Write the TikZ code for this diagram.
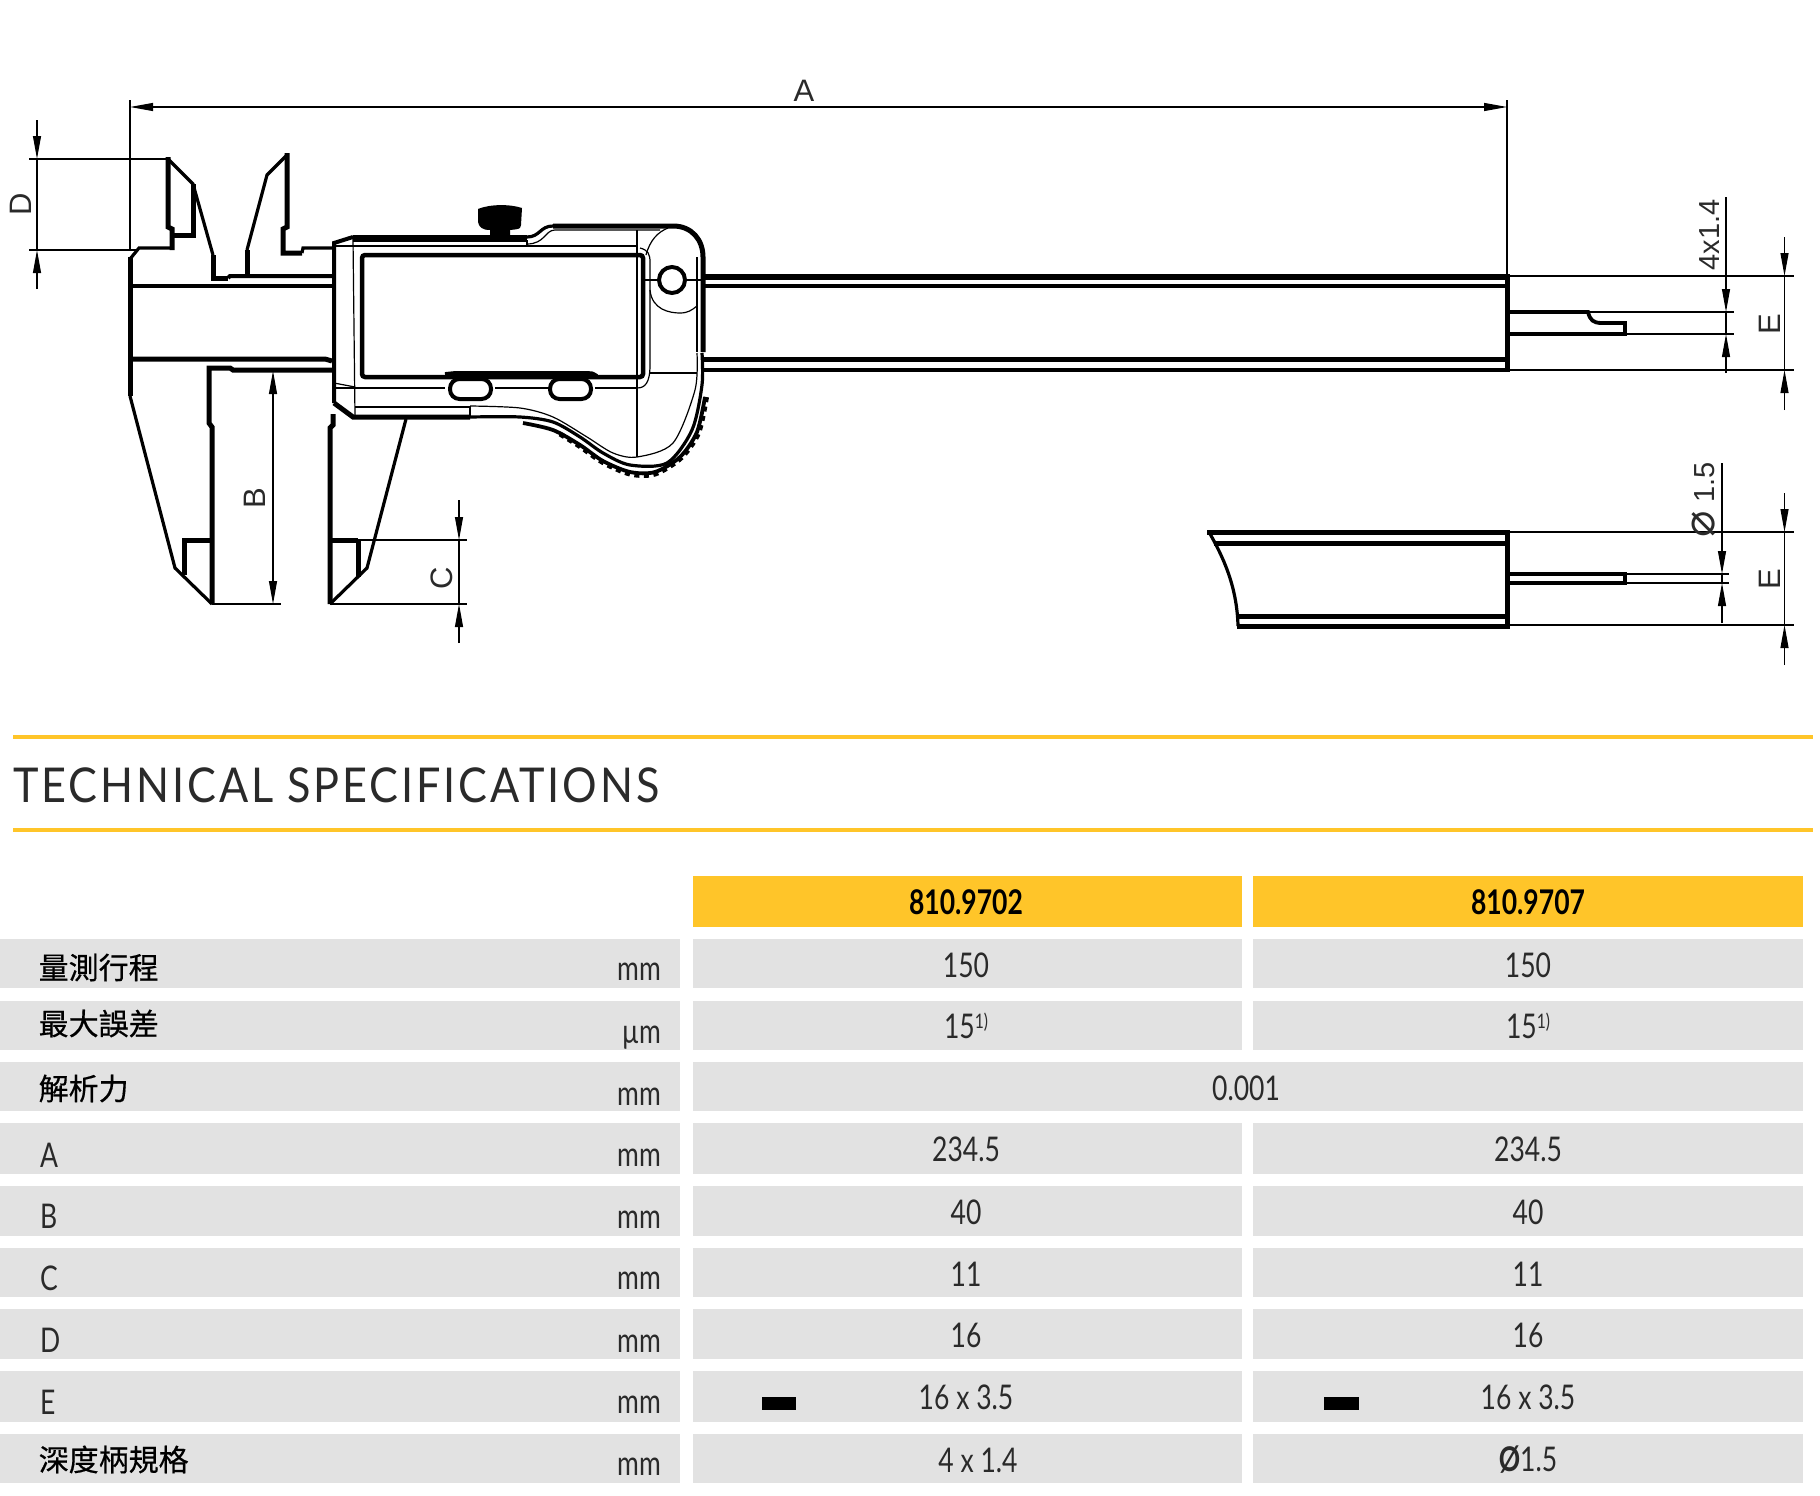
\documentclass[tikz,border=0pt]{standalone}
\usepackage{fontspec}
\usetikzlibrary{arrows.meta}
\setmainfont{Liberation Sans}
\newfontfamily\cond[FakeStretch=0.78]{Lato}
\newfontfamily\titlef[FakeStretch=0.90,LetterSpace=6]{Lato}
\newfontfamily\cjk[FakeBold=0.5]{Noto Sans CJK TC}
\newfontfamily\dejav{DejaVu Sans}
\definecolor{yel}{HTML}{FFC529}
\definecolor{rowg}{HTML}{E2E2E2}
\definecolor{txt}{HTML}{2A2A2A}
\tikzset{
  hv/.style={line width=5pt,line join=miter,line cap=butt},
  md/.style={line width=3.2pt,line join=miter},
  tn/.style={line width=1.2pt,line join=miter},
  hair/.style={line width=1.1pt,black},
  dimt/.style={line width=1.1pt,-{Triangle[length=23pt,width=8pt]}},
  dimtt/.style={line width=1.1pt,{Triangle[length=23pt,width=8pt]}-{Triangle[length=23pt,width=8pt]}},
  dl/.style={font=\fontsize{31}{31}\selectfont,text=txt,inner sep=0pt,rotate=90},
  val/.style={font=\cond\fontsize{34}{34}\selectfont,text=txt,inner sep=0pt},
  lab/.style={font=\cond\fontsize{34}{34}\selectfont,text=txt,inner sep=0pt,anchor=west},
  cj/.style={font=\cjk\fontsize{30}{30}\selectfont,text=black,inner sep=0pt,anchor=west},
  un/.style={font=\cond\fontsize{34}{34}\selectfont,text=txt,inner sep=0pt,anchor=base east},
  hdr/.style={font=\cond\bfseries\fontsize{34}{34}\selectfont,text=black,inner sep=0pt},
}
\begin{document}
\begin{tikzpicture}[x=1pt,y=-1pt]
\useasboundingbox (0,0) rectangle (1820,1496);
% ---- fixed jaws
\draw[md] (130,259) -- (139,248) -- (172,248);
\draw[hv] (130,257) -- (130,396);
\draw[md] (130,396) -- (175,568) -- (212,604);
\draw[hv] (172,250) -- (172,229) -- (168,227) -- (168,157);
\draw[md] (168,159) -- (193,184) -- (213,255);
\draw[hv] (193,184) -- (193,235) -- (172,235);
\draw[hv] (213,255) -- (213,278) -- (228,278);
\draw[line width=4pt] (228,278) -- (230,276) -- (332,276);
\draw[line width=4pt] (130,286) -- (332,286);
\draw[hv] (130,359) -- (325,359) -- (332,361);
\draw[hv] (212,604) -- (212,427) -- (209,423) -- (209,368) -- (230,368) -- (233,370) -- (332,370);
\draw[hv] (212,540) -- (184,540) -- (184,575);
% ---- sliding jaws
\draw[md] (287,155) -- (267,175) -- (247,250);
\draw[hv] (247,250) -- (247,275);
\draw[hv] (287,153) -- (287,227) -- (283,229) -- (283,253) -- (302,253);
\draw[md] (302,253) -- (303,248) -- (332,248);
\draw[hv] (330,604) -- (330,428) -- (333,425) -- (333,414);
\draw[md] (330,604) -- (367,568) -- (406,419);
\draw[hv] (330,540) -- (358,540);
\draw[hv] (358,540) -- (358,577);
% ---- body
\draw[hv,line width=4pt] (334,403) -- (334,243) -- (353,237);
\draw[hv] (353,237) -- (527,237);
\draw[md] (527,237) .. controls (540,237) and (540,226) .. (553,226);
\draw[hv] (553,226) -- (673,226) .. controls (692,226) and (703,240) .. (703,257) -- (703,352);
\draw[hv] (334,403) -- (353,417) -- (470,417);
\draw[tn] (353,238) -- (355,417);
\draw[tn] (334,246) -- (637,246);
\draw[tn] (353,241) -- (527,241) -- (527,246);
\draw[tn] (527,244) .. controls (545,244) and (545,230) .. (555,230) -- (660,230);
\draw[tn] (334,388) -- (445,388);
\draw[tn] (495,388) -- (548,388);
\draw[tn] (595,388) -- (637,388);
\draw[tn] (334,383) -- (355,387);
\draw[tn] (355,407) -- (470,407) -- (470,417);
\draw[tn] (637,230) -- (637,457);
\draw[tn] (640,248) .. controls (648,250) and (650,254) .. (650,262) -- (650,365) .. controls (650,383) and (645,388) .. (637,388);
\draw[tn] (650,373) -- (697,373);
\draw[tn] (646,255) .. controls (650,240) and (658,232) .. (668,228);
\draw[tn] (650,290) .. controls (652,310) and (670,313) .. (680,313) .. controls (688,313) and (692,310) .. (697,306);
\draw[tn] (697,257) -- (697,352);
\draw[tn] (645,280) -- (657,280);
\draw[tn] (687,280) -- (703,280);
\draw[line width=4pt] (672,280) circle (13pt);
% wheel
\draw[tn] plot[smooth] coordinates {(470,406) (520,408) (553,417) (587,437) (613,453) (637,457) (673,443) (695,390) (697,353)};
\draw[md] plot[smooth] coordinates {(470,417) (520,417) (553,422) (580,437) (603,453) (630,465) (667,463) (692,430) (702,385) (702,353)};
\draw[line width=3.8pt] plot[smooth] coordinates {(523,423) (553,430) (580,445) (603,461) (630,472) (655,472) (680,457) (697,432) (705,397)};
\draw[line width=5pt,dash pattern=on 5pt off 4.5pt] plot[smooth] coordinates {(560,434) (580,446.5) (603,462.5) (630,474) (655,474) (681,458) (698.5,433) (706.5,397)};
% screen
\draw[line width=4.5pt,rounded corners=3pt] (362,255) rectangle (643,377);
\draw[line width=3.8pt] (445,374) .. controls (450,373) .. (455,373) -- (588,373) .. controls (592,373) .. (597,376);
% buttons
\draw[line width=4pt,fill=white,rounded corners=9.5pt] (450,379) rectangle (491,399);
\draw[line width=4pt,fill=white,rounded corners=9.5pt] (550,379) rectangle (591,399);
% clamp knob
\fill[black] (478,209) .. controls (490,204) and (510,204) .. (522,208) -- (521,225) .. controls (520,229) .. (510,230) -- (510,238) -- (490,238) -- (490,230) .. controls (482,230) and (479,227) .. (478,222) -- cycle;
% ---- beam
\draw[line width=6pt] (703,277) -- (1509.5,277);
\draw[line width=3.2pt] (703,286) -- (1507,286);
\draw[line width=5pt] (703,359) -- (1507,359);
\draw[line width=3.6pt] (703,370) -- (1509.5,370);
\draw[line width=5pt] (1507,276) -- (1507,372);
\draw[hv,line width=3.8pt] (1507,312) -- (1588,312) .. controls (1590,320) and (1593,323) .. (1602,323) -- (1625,323) -- (1625,334) -- (1507,334);
% ---- lower detail
\draw[line width=5pt] (1207,532) -- (1509.5,532);
\draw[line width=5pt] (1214,543) -- (1507,543);
\draw[line width=5pt] (1237,616) -- (1507,616);
\draw[line width=5pt] (1237,626) -- (1509.5,626);
\draw[line width=5pt] (1507,530) -- (1507,628);
\draw[md] (1209,532) .. controls (1222,555) and (1237,585) .. (1238,626);
\draw[line width=3.8pt] (1507,574) -- (1625,574) -- (1625,583) -- (1507,583);
% ---- dimensions
\draw[hair] (130,100) -- (130,250);
\draw[hair] (1507,100) -- (1507,276);
\draw[dimtt] (130,107) -- (1507,107);
\node[font=\fontsize{31}{31}\selectfont,text=txt,inner sep=0pt] (la) at (804,91) {A};
\draw[hair] (29,159) -- (168,159);
\draw[hair] (29,250) -- (139,250);
\draw[hair] (37,159) -- (37,250);
\draw[dimt] (37,120) -- (37,159);
\draw[dimt] (37,289) -- (37,250);
\node[dl] (ld) at (21,204) {D};
\draw[dimtt] (273,371) -- (273,604);
\draw[hair] (212,604) -- (281,604);
\node[dl] (lb) at (255,498) {B};
\draw[hair] (358,540) -- (467,540);
\draw[hair] (330,604) -- (467,604);
\draw[hair] (459,540) -- (459,604);
\draw[dimt] (459,500) -- (459,540);
\draw[dimt] (459,643) -- (459,604);
\node[dl] (lc) at (442,578) {C};
% right top dims
\draw[hair] (1507,276) -- (1794,276);
\draw[hair] (1507,370) -- (1794,370);
\draw[hair] (1588,312) -- (1734,312);
\draw[hair] (1625,334) -- (1734,334);
\draw[hair] (1726,312) -- (1726,334);
\draw[dimt] (1726,197) -- (1726,312);
\draw[dimt] (1726,373) -- (1726,334);
\node[dl,font=\fontsize{29}{29}\selectfont] (l41) at (1710,235) {4x1.4};
\draw[hair] (1784.5,276) -- (1784.5,370);
\draw[dimt] (1784.5,237) -- (1784.5,276);
\draw[dimt] (1784.5,410) -- (1784.5,370);
\node[dl] (le1) at (1770,324) {E};
% right lower dims
\draw[hair] (1507,532) -- (1794,532);
\draw[hair] (1507,625) -- (1794,625);
\draw[hair] (1625,574) -- (1729,574);
\draw[hair] (1625,583) -- (1729,583);
\draw[hair] (1722,574) -- (1722,583);
\draw[dimt] (1722,463) -- (1722,574);
\draw[dimt] (1722,623) -- (1722,583);
\node[dl,font=\fontsize{29}{29}\selectfont] (l15) at (1704,500) {{\dejav\fontsize{44}{44}\selectfont ⌀} 1.5};
\draw[hair] (1784.5,532) -- (1784.5,625);
\draw[dimt] (1784.5,493) -- (1784.5,532);
\draw[dimt] (1784.5,665) -- (1784.5,625);
\node[dl] (le2) at (1770,579) {E};
% ---- heading
\draw[yel,line width=4.5pt] (13,737) -- (1813,737);
\draw[yel,line width=4.5pt] (13,830) -- (1813,830);
\node[font=\titlef\fontsize{48}{48}\selectfont,text=txt,inner sep=0pt,anchor=base west] (title) at (13,802) {TECHNICAL SPECIFICATIONS};
% ---- table
\fill[yel] (693,875.5) rectangle (1241.5,927);
\fill[yel] (1253,875.5) rectangle (1802.5,927);
\node[hdr] (h1) at (966,902) {810.9702};
\node[hdr] (h2) at (1528,902) {810.9707};
\foreach \t/\b in {939/988,1001/1050,1062/1111,1123/1174,1186/1236,1248/1297,1309/1359,1371/1422,1434/1483}{
  \fill[rowg] (0,\t) rectangle (680,\b);
  \fill[rowg] (693,\t) rectangle (1241.5,\b);
  \fill[rowg] (1253,\t) rectangle (1802.5,\b);
}
\fill[rowg] (1240,1062) rectangle (1254,1111);
% labels
\node[cj] (r1) at (38.5,967.5) {量測行程};
\node[cj] (r2) at (38.5,1023.5) {最大誤差};
\node[cj] (r3) at (38.5,1088.5) {解析力};
\node[lab] (r4) at (40,1155) {A};
\node[lab] (r5) at (40,1216) {B};
\node[lab] (r6) at (40,1278) {C};
\node[lab] (r7) at (40,1340) {D};
\node[lab] (r8) at (40,1402) {E};
\node[cj] (r9) at (38.5,1459.5) {深度柄規格};
% units
\node[un] (u1) at (661,980) {mm};
\node[un] (u2) at (661,1043) {µm};
\node[un] (u3) at (661,1105) {mm};
\node[un] (u4) at (661,1166) {mm};
\node[un] (u5) at (661,1228) {mm};
\node[un] (u6) at (661,1289) {mm};
\node[un] (u7) at (661,1352) {mm};
\node[un] (u8) at (661,1413) {mm};
\node[un] (u9) at (661,1475) {mm};
% values
\node[val] (a1) at (966,965) {150};
\node[val] (b1) at (1528,965) {150};
\node[val] (a2) at (966,1026) {15\raisebox{10pt}{\fontsize{20}{20}\selectfont 1)}};
\node[val] (b2) at (1528,1026) {15\raisebox{10pt}{\fontsize{20}{20}\selectfont 1)}};
\node[val] (c3) at (1246,1088) {0.001};
\node[val] (a4) at (966,1149) {234.5};
\node[val] (b4) at (1528,1149) {234.5};
\node[val] (a5) at (966,1212) {40};
\node[val] (b5) at (1528,1212) {40};
\node[val] (a6) at (966,1274) {11};
\node[val] (b6) at (1528,1274) {11};
\node[val] (a7) at (966,1335) {16};
\node[val] (b7) at (1528,1335) {16};
\node[val] (a8) at (966,1397) {16 x 3.5};
\node[val] (b8) at (1528,1397) {16 x 3.5};
\node[val] (a9) at (978,1460) {4 x 1.4};
\node[val] (b9) at (1528,1460) {{\bfseries Ø}1.5};
\fill[black] (762,1397) rectangle (796,1410);
\fill[black] (1324,1397) rectangle (1359,1410);
\end{tikzpicture}
\end{document}
